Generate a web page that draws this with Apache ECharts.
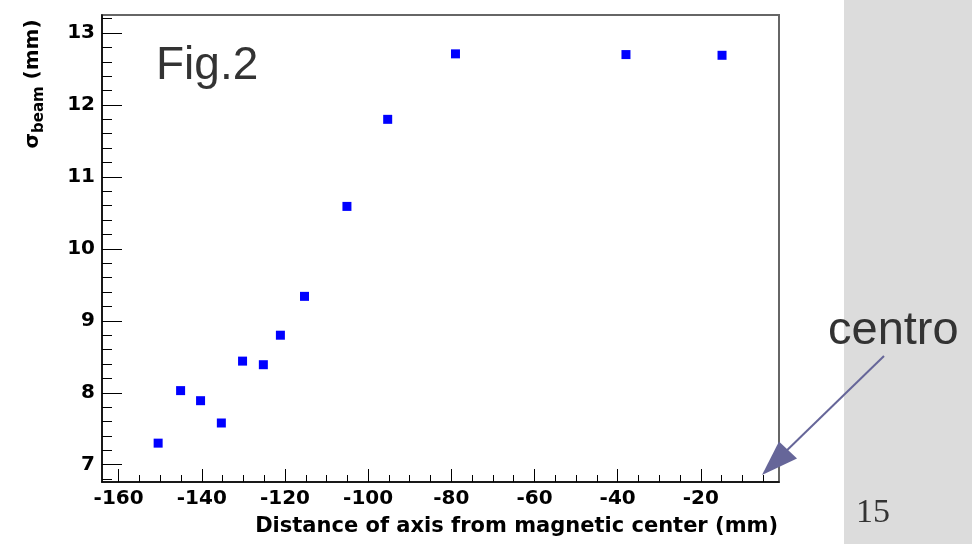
<!DOCTYPE html>
<html>
<head>
<meta charset="utf-8">
<script src="https://cdn.jsdelivr.net/npm/echarts@6/dist/echarts.min.js"></script>
<style>
html,body{margin:0;padding:0;background:#fff;}
#chart{width:972px;height:544px;}
</style>
</head>
<body>
<div id="chart"></div>
<script>
// Data
const xValues = [-150.5, -145.1, -140.3, -135.3, -130.2, -125.2, -121.1, -115.3, -105.1, -95.3, -79.0, -38.0, -14.9];
const yValues = [7.30, 8.03, 7.89, 7.58, 8.44, 8.39, 8.80, 9.34, 10.59, 11.80, 12.71, 12.70, 12.69];
const xTickLabels = [-160, -140, -120, -100, -80, -60, -40, -20];
const yTickLabels = [7, 8, 9, 10, 11, 12, 13];
const xMinorStep = 5;
const yMinorStep = 0.2;
const xRange = [-164, -1.2];
const yRange = [6.76, 13.25];

const xMinor = [];
for (let v = -160; v < xRange[1]; v += xMinorStep) { if (v % 20 !== 0) xMinor.push(v); }
const yMinor = [];
for (let k = Math.ceil(yRange[0] / yMinorStep); k * yMinorStep <= yRange[1]; k++) {
  if (k % 5 !== 0) yMinor.push(+(k * yMinorStep).toFixed(2));
}

const points = xValues.map((x, i) => [x, yValues[i]]);
const labelFont = {fontFamily: 'DejaVu Sans', fontWeight: 'bold', fontSize: 20, color: '#000'};

const chart = echarts.init(document.getElementById('chart'), null, {renderer: 'canvas'});
chart.setOption({
  animation: false,
  backgroundColor: '#fff',
  grid: {left: 102, right: 193, top: 15, bottom: 62, show: true, borderColor: '#666', borderWidth: 2, backgroundColor: 'transparent'},
  xAxis: [
    {type: 'value', min: xRange[0], max: xRange[1], position: 'bottom',
     axisLine: {show: true, onZero: false, lineStyle: {color: '#000', width: 1.5}},
     axisTick: {show: true, inside: true, length: 13, customValues: xTickLabels, lineStyle: {color: '#000', width: 1}},
     axisLabel: Object.assign({show: true, margin: 7, customValues: xTickLabels}, labelFont),
     splitLine: {show: false}},
    {type: 'value', min: xRange[0], max: xRange[1], position: 'bottom',
     axisLine: {show: false, onZero: false},
     axisTick: {show: true, inside: true, length: 7, customValues: xMinor, lineStyle: {color: '#000', width: 1}},
     axisLabel: {show: false},
     splitLine: {show: false}}
  ],
  yAxis: [
    {type: 'value', min: yRange[0], max: yRange[1], position: 'left',
     axisLine: {show: true, onZero: false, lineStyle: {color: '#000', width: 1.5}},
     axisTick: {show: true, inside: true, length: 20, customValues: yTickLabels, lineStyle: {color: '#000', width: 1}},
     axisLabel: Object.assign({show: true, margin: 7, customValues: yTickLabels}, labelFont),
     splitLine: {show: false}},
    {type: 'value', min: yRange[0], max: yRange[1], position: 'left',
     axisLine: {show: false, onZero: false},
     axisTick: {show: true, inside: true, length: 10, customValues: yMinor, lineStyle: {color: '#000', width: 1}},
     axisLabel: {show: false},
     splitLine: {show: false}}
  ],
  series: [{
    type: 'scatter', xAxisIndex: 0, yAxisIndex: 0,
    data: points, symbol: 'rect', symbolSize: 9,
    itemStyle: {color: '#0000ff', opacity: 1}
  }],
  graphic: [
    {type: 'rect', z: -10, shape: {x: 844, y: 0, width: 128, height: 544}, style: {fill: '#dcdcdc'}},
    {type: 'text', x: 156, y: 66, style: {text: 'Fig.2', fontFamily: 'Liberation Sans', fontSize: 46, fill: '#333', textAlign: 'left', textVerticalAlign: 'middle'}},
    {type: 'text', x: 778, y: 527, style: {text: 'Distance of axis from magnetic center (mm)', fontFamily: 'DejaVu Sans', fontWeight: 'bold', fontSize: 21, fill: '#000', textAlign: 'right', textVerticalAlign: 'middle'}},
    {type: 'text', x: 33, y: 84, rotation: Math.PI / 2,
     style: {text: '{s|σ}{b|beam}{s| (mm)}', textAlign: 'center', textVerticalAlign: 'middle',
       rich: {s: {fontFamily: 'DejaVu Sans', fontWeight: 'bold', fontSize: 20, lineHeight: 28, verticalAlign: 'middle', fill: '#000'},
              b: {fontFamily: 'DejaVu Sans', fontWeight: 'bold', fontSize: 15, lineHeight: 28, verticalAlign: 'bottom', fill: '#000'}}}},
    {type: 'text', x: 828, y: 331, z: 10, style: {text: 'centro', fontFamily: 'Liberation Sans', fontSize: 47, fill: '#333', textAlign: 'left', textVerticalAlign: 'middle'}},
    {type: 'text', x: 856, y: 513, style: {text: '15', fontFamily: 'Liberation Serif', fontSize: 34, fill: '#333', textAlign: 'left', textVerticalAlign: 'middle'}},
    {type: 'line', z: 10, shape: {x1: 884, y1: 356, x2: 780, y2: 457}, style: {stroke: '#666699', lineWidth: 2}},
    {type: 'polygon', z: 10, shape: {points: [[762, 475], [797, 458.5], [779, 441.5]]}, style: {fill: '#666699'}}
  ]
});
</script>
</body>
</html>
